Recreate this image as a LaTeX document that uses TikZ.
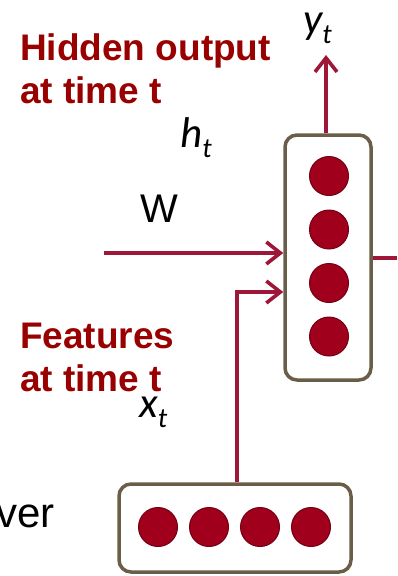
\documentclass[tikz,border=0pt]{standalone}
\usepackage{fontspec}
\setmainfont{Liberation Sans}
\newfontfamily\calfont{Carlito}
\usetikzlibrary{arrows.meta}
\definecolor{labelred}{RGB}{153,0,0}
\definecolor{wire}{RGB}{158,22,56}
\definecolor{unitfill}{RGB}{160,0,28}
\definecolor{unitedge}{RGB}{115,0,20}
\definecolor{boxedge}{RGB}{107,94,72}
% italic variable with a lowered subscript
\newcommand{\vlabel}[2]{{\calfont\itshape\fontsize{43}{43}\selectfont #1\raisebox{-10pt}{\fontsize{28}{28}\selectfont #2}}}
\begin{document}
\begin{tikzpicture}[x=1pt,y=-1pt,
  layerbox/.style={draw=boxedge,line width=3.5pt,rounded corners=12pt,fill=white,inner sep=0pt},
  unit/.style={circle,fill=unitfill,draw=unitedge,line width=1pt,minimum size=39pt,inner sep=0pt},
  wireline/.style={draw=wire,line width=3.6pt},
  wirearrow/.style={wireline,-{Straight Barb[length=14pt,width=22pt]}},
  note/.style={text=labelred,font=\bfseries\fontsize{37}{43}\selectfont,inner sep=0pt,anchor=base west},
  plain/.style={inner sep=0pt,anchor=base west,font=\fontsize{40}{40}\selectfont},
  varlabel/.style={inner sep=0pt,anchor=base west}
]
\useasboundingbox (0,0) rectangle (397,576);

% hidden layer (vertical) and input layer (horizontal)
\node[layerbox,minimum width=86pt,minimum height=245pt] (hbox) at (328,257.5) {};
\node[layerbox,minimum width=232pt,minimum height=88pt] (xbox) at (235,528) {};

\node[unit] (h1) at (329,176) {};
\node[unit] (h2) at (329,229.5) {};
\node[unit] (h3) at (329,283) {};
\node[unit] (h4) at (329,336.5) {};

\node[unit] (x1) at (158,527) {};
\node[unit] (x2) at (209,527) {};
\node[unit] (x3) at (260,527) {};
\node[unit] (x4) at (311,527) {};

% connectors
\coordinate (ytip) at (326,55);
\coordinate (win) at (104,253);
\coordinate (hout) at (397,258);
\coordinate (xbend) at (237,292);
\draw[wirearrow] (hbox.north -| ytip) -- (ytip);
\draw[wirearrow] (win) -- (hbox.west |- win);
\draw[wireline] (hbox.east |- hout) -- (hout);
\draw[wirearrow] (xbox.north -| xbend) |- (hbox.west |- xbend);

% labels
\node[note] (hid1) at (20,60) {Hidden output};
\node[note] (hid2) at (20,103) {at time t};
\node[note] (feat1) at (20,348) {Features};
\node[note] (feat2) at (20,391) {at time t};

\node[plain] (wlbl) at (140,222) {W};
\node[plain,font=\fontsize{42}{42}\selectfont] (layerlbl) at (-4,527) {ver};

\node[varlabel] (ylbl) at (303,33) {\vlabel{y}{t}};
\node[varlabel] (hlbl) at (180,147) {\vlabel{h}{t}};
\node[varlabel] (xlbl) at (139,417) {\vlabel{x}{t}};
\end{tikzpicture}
\end{document}
